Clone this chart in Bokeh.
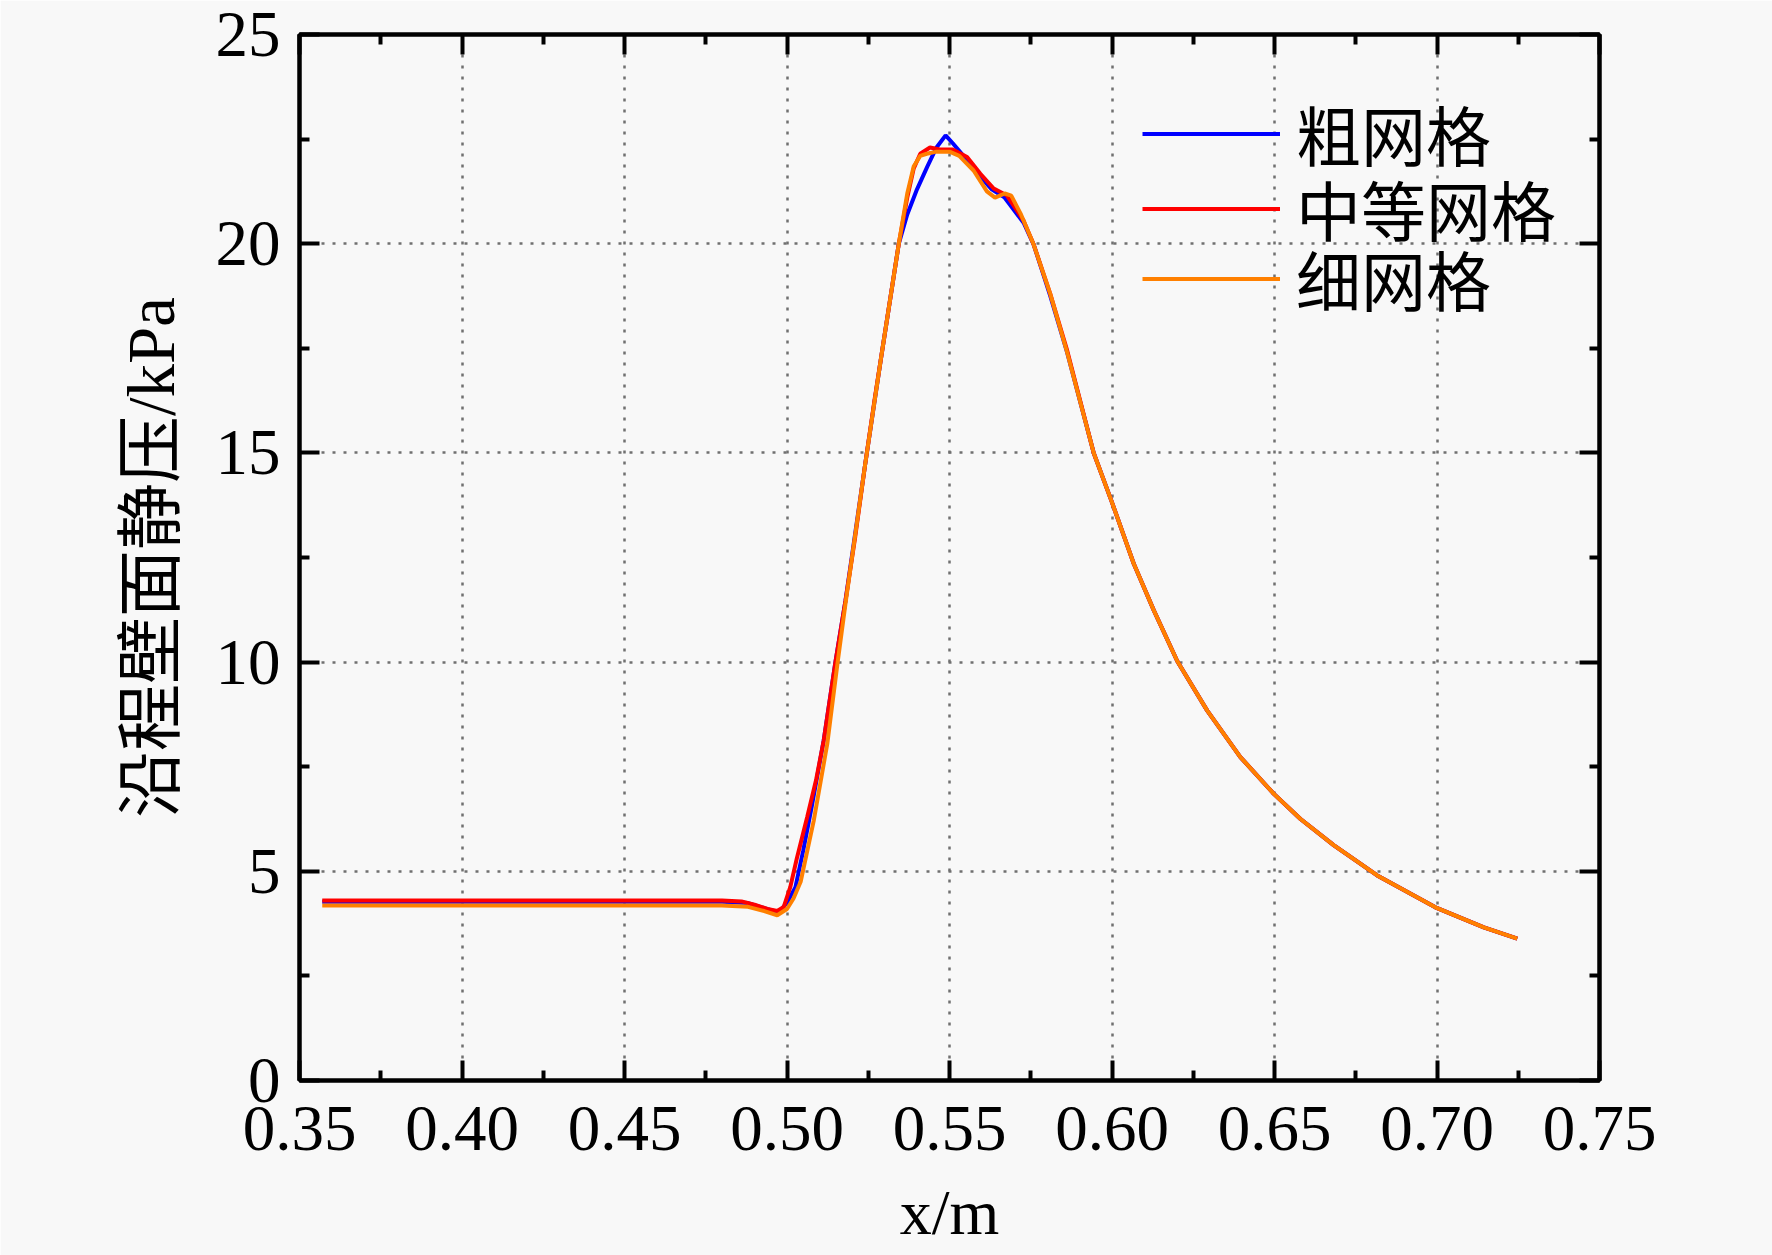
from bokeh.plotting import figure
from bokeh.models import LinearAxis, FixedTicker, Range1d, Legend, LegendItem
from bokeh.embed import file_html
from bokeh.resources import INLINE

# ---------------- data ----------------
coarse_x = [0.357, 0.40, 0.45, 0.480, 0.488, 0.493, 0.4975, 0.500, 0.5026, 0.505, 0.5075,
            0.5113, 0.5149, 0.518, 0.524, 0.5288, 0.5344, 0.537, 0.540, 0.5431, 0.546,
            0.5488, 0.551, 0.5554, 0.5595, 0.563, 0.567, 0.5728, 0.5759, 0.581, 0.5862,
            0.5944, 0.5998, 0.6067, 0.6129, 0.6201, 0.6293, 0.6395, 0.6498, 0.658,
            0.6683, 0.6816, 0.6995, 0.7144, 0.7247]
coarse_y = [4.27, 4.27, 4.27, 4.27, 4.24, 4.12, 4.02, 4.25, 4.62, 5.5, 6.5,
            8.13, 10.0, 11.47, 14.7, 17.2, 20.0, 20.7, 21.3, 21.83, 22.3,
            22.59, 22.4, 22.0, 21.6, 21.3, 21.1, 20.5, 19.98, 18.75, 17.4,
            14.99, 13.86, 12.35, 11.23, 10.02, 8.84, 7.73, 6.85, 6.25,
            5.62, 4.90, 4.14, 3.66, 3.39]

medium_x = [0.357, 0.40, 0.45, 0.480, 0.486, 0.490, 0.494, 0.497, 0.499, 0.501, 0.503,
            0.5062, 0.509, 0.5113, 0.5149, 0.518, 0.521, 0.524, 0.527, 0.5288, 0.532,
            0.5344, 0.537, 0.539, 0.541, 0.544, 0.547, 0.551, 0.5554, 0.5595, 0.5636,
            0.5677, 0.5728, 0.5759, 0.581, 0.5862, 0.5944, 0.5998, 0.6067, 0.6129,
            0.6201, 0.6293, 0.6395, 0.6498, 0.658, 0.6683, 0.6816, 0.6995, 0.7144, 0.7247]
medium_y = [4.30, 4.30, 4.30, 4.30, 4.28, 4.20, 4.10, 4.05, 4.15, 4.62, 5.3,
            6.29, 7.2, 8.13, 10.0, 11.47, 13.0, 14.7, 16.3, 17.2, 18.8,
            20.0, 21.1, 21.8, 22.15, 22.3, 22.25, 22.25, 22.07, 21.67, 21.32,
            21.15, 20.55, 19.98, 18.8, 17.45, 14.99, 13.86, 12.35, 11.23,
            10.02, 8.84, 7.73, 6.85, 6.25, 5.62, 4.90, 4.14, 3.66, 3.39]

fine_x = [0.357, 0.40, 0.45, 0.480, 0.488, 0.493, 0.497, 0.500, 0.502, 0.5042, 0.5082,
          0.5124, 0.5155, 0.518, 0.524, 0.5288, 0.5344, 0.537, 0.539, 0.541, 0.543,
          0.546, 0.550, 0.553, 0.5574, 0.5615, 0.564, 0.567, 0.569, 0.572, 0.5759,
          0.581, 0.5862, 0.5944, 0.5998, 0.6067, 0.6129, 0.6201, 0.6293, 0.6395,
          0.6498, 0.658, 0.6683, 0.6816, 0.6995, 0.7144, 0.7247]
fine_y = [4.18, 4.18, 4.18, 4.18, 4.15, 4.05, 3.95, 4.10, 4.35, 4.75, 6.2,
          8.05, 9.95, 11.4, 14.7, 17.2, 20.0, 21.2, 21.85, 22.1, 22.15,
          22.2, 22.2, 22.1, 21.75, 21.25, 21.1, 21.2, 21.15, 20.7, 19.98,
          18.8, 17.4, 14.99, 13.86, 12.35, 11.23, 10.02, 8.84, 7.73,
          6.85, 6.25, 5.62, 4.90, 4.14, 3.66, 3.39]

series_names = ["粗网格", "中等网格", "细网格"]

x_ticks = [0.35, 0.40, 0.45, 0.50, 0.55, 0.60, 0.65, 0.70, 0.75]
x_tick_labels = ["0.35", "0.40", "0.45", "0.50", "0.55", "0.60", "0.65", "0.70", "0.75"]
x_minor = [0.375, 0.425, 0.475, 0.525, 0.575, 0.625, 0.675, 0.725]
y_ticks = [0, 5, 10, 15, 20, 25]
y_minor = [2.5, 7.5, 12.5, 17.5, 22.5]

x_label = "x/m"
y_label = "沿程壁面静压/kPa"

# ---------------- styling ----------------
SERIF = "Liberation Serif"
MIXED = "Liberation Serif, Noto Sans CJK SC"
BG = "#f8f8f8"

p = figure(width=1772, height=1282, output_backend="svg", toolbar_location=None,
           x_range=Range1d(0.35, 0.75), y_range=Range1d(0, 25),
           x_axis_location="below", y_axis_location="left",
           min_border_left=299, min_border_right=173, min_border_top=34, min_border_bottom=202)
p.background_fill_color = BG
p.border_fill_color = BG
p.outline_line_color = "black"
p.outline_line_width = 4

xt = FixedTicker(ticks=x_ticks, minor_ticks=x_minor)
yt = FixedTicker(ticks=y_ticks, minor_ticks=y_minor)

def style_axis(ax):
    ax.axis_line_color = "black"
    ax.axis_line_width = 4
    ax.major_tick_line_color = "black"
    ax.major_tick_line_width = 4
    ax.minor_tick_line_color = "black"
    ax.minor_tick_line_width = 4
    ax.major_tick_in = 20
    ax.major_tick_out = 0
    ax.minor_tick_in = 10
    ax.minor_tick_out = 0
    ax.major_label_text_font = SERIF
    ax.major_label_text_font_size = "65px"
    ax.major_label_text_color = "black"

xa = p.xaxis[0]
xa.ticker = xt
xa.major_label_overrides = {t: s for t, s in zip(x_ticks, x_tick_labels)}
style_axis(xa)
xa.major_label_standoff = 26
xa.axis_label = x_label
xa.axis_label_text_font = SERIF
xa.axis_label_text_font_size = "64px"
xa.axis_label_text_font_style = "normal"
xa.axis_label_text_color = "black"
xa.axis_label_standoff = 24

ya = p.yaxis[0]
ya.ticker = yt
style_axis(ya)
ya.major_label_standoff = 19
ya.axis_label = y_label
ya.axis_label_text_font = MIXED
ya.axis_label_text_font_size = "67px"
ya.axis_label_text_font_style = "normal"
ya.axis_label_standoff = 25
ya.axis_label_text_color = "black"

top = LinearAxis(ticker=FixedTicker(ticks=x_ticks, minor_ticks=x_minor))
style_axis(top)
top.major_label_overrides = {t: "" for t in x_ticks}
top.major_label_text_font_size = "10px"
top.major_label_standoff = 0
p.add_layout(top, "above")

right = LinearAxis(ticker=FixedTicker(ticks=y_ticks, minor_ticks=y_minor))
style_axis(right)
right.major_label_overrides = {t: "" for t in y_ticks}
right.major_label_text_font_size = "10px"
right.major_label_standoff = 0
p.add_layout(right, "right")

for g in (p.xgrid[0], p.ygrid[0]):
    g.grid_line_color = "#707070"
    g.grid_line_width = 2.5
    g.grid_line_dash = "3 8"
p.xgrid[0].ticker = xt
p.ygrid[0].ticker = yt

r_coarse = p.line(coarse_x, coarse_y, line_color="#0000ff", line_width=4)
r_medium = p.line(medium_x, medium_y, line_color="#ff0000", line_width=4)
r_fine = p.line(fine_x, fine_y, line_color="#ff8000", line_width=4)

# one legend per row so that the rows sit exactly where the reference puts them
row_y = [900, 825, 755]
for name, rend, ly in zip(series_names, [r_coarse, r_medium, r_fine], row_y):
    lg = Legend(items=[LegendItem(label=name, renderers=[rend])], location=(843, ly))
    lg.padding = 0
    lg.margin = 0
    lg.spacing = 0
    lg.border_line_color = None
    lg.background_fill_alpha = 0
    lg.glyph_width = 138
    lg.glyph_height = 75
    lg.label_height = 75
    lg.label_standoff = 16
    lg.label_text_font = MIXED
    lg.label_text_font_size = "65px"
    lg.label_text_color = "black"
    p.add_layout(lg, "center")

open("out.html", "w").write(file_html(p, INLINE))
